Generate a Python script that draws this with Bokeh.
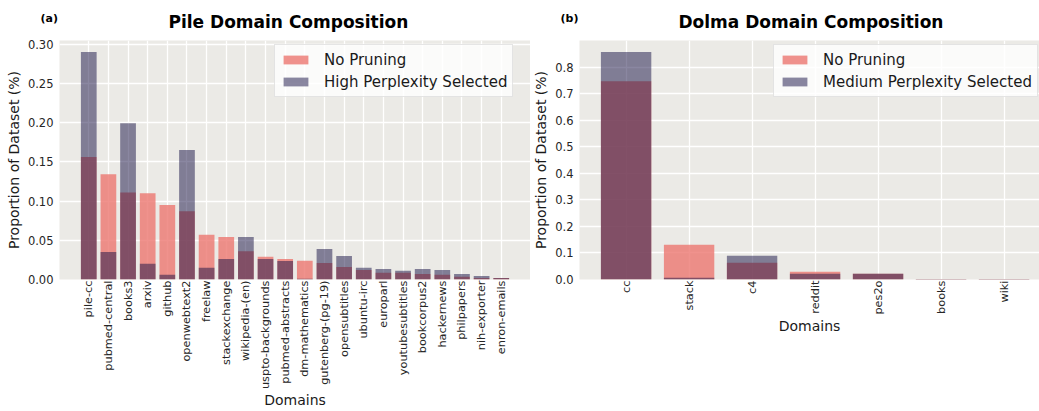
import math
from bokeh.plotting import figure
from bokeh.layouts import row
from bokeh.models import FixedTicker, NumeralTickFormatter, Legend, LegendItem, Title
from bokeh.embed import file_html
from bokeh.resources import INLINE

# ---------------- data ----------------
pile_domains = ["pile-cc", "pubmed-central", "books3", "arxiv", "github", "openwebtext2",
                "freelaw", "stackexchange", "wikipedia-(en)", "uspto-backgrounds",
                "pubmed-abstracts", "dm-mathematics", "gutenberg-(pg-19)", "opensubtitles",
                "ubuntu-irc", "europarl", "youtubesubtitles", "bookcorpus2", "hackernews",
                "philpapers", "nih-exporter", "enron-emails"]
pile_no_pruning = [0.156, 0.134, 0.111, 0.110, 0.095, 0.087, 0.057, 0.054, 0.036, 0.029,
                   0.026, 0.024, 0.021, 0.016, 0.012, 0.0085, 0.0085, 0.007, 0.006, 0.0035,
                   0.002, 0.0018]
pile_high_ppl = [0.290, 0.035, 0.199, 0.020, 0.006, 0.165, 0.015, 0.026, 0.054, 0.026,
                 0.0235, 0.001, 0.039, 0.030, 0.015, 0.0135, 0.011, 0.0135, 0.012, 0.007,
                 0.0046, 0.0018]
pile_yticks = [0.0, 0.05, 0.10, 0.15, 0.20, 0.25, 0.30]

dolma_domains = ["cc", "stack", "c4", "reddit", "pes2o", "books", "wiki"]
dolma_no_pruning = [0.747, 0.131, 0.063, 0.029, 0.022, 0.002, 0.002]
dolma_medium_ppl = [0.857, 0.0064, 0.0896, 0.0215, 0.022, 0.002, 0.002]
dolma_yticks = [0.0, 0.1, 0.2, 0.3, 0.4, 0.5, 0.6, 0.7, 0.8]

FONT = "DejaVu Sans"
BG = "#EBEAE6"
PINK = "#EC7770"
DARK = "#151044"
TXT = "#1a1a1a"


def panel(domains, base, sel, sel_label, yticks, yfmt, x_range, y_range, width,
          border_left, border_right, title, title_offset, tag, leg_xy):
    p = figure(width=width, height=411, x_range=x_range, y_range=y_range,
               output_backend="svg", toolbar_location=None,
               min_border_left=border_left, min_border_right=border_right,
               min_border_top=40, min_border_bottom=132)
    p.background_fill_color = BG
    p.border_fill_color = "white"
    p.outline_line_color = None

    xs = list(range(len(domains)))
    r1 = p.vbar(x=xs, top=base, width=0.8, bottom=0, fill_color=PINK, fill_alpha=0.8,
                line_color=None)
    r2 = p.vbar(x=xs, top=sel, width=0.8, bottom=0, fill_color=DARK, fill_alpha=0.5,
                line_color=None)

    # panel tag, e.g. "(a)" (outermost title row)
    p.title.text = tag
    p.title.align = "left"
    p.title.offset = -19
    p.title.standoff = -49
    p.title.text_font = FONT
    p.title.text_font_size = "11px"
    p.title.text_font_style = "bold"
    p.title.text_color = "black"

    # main title (next to the frame)
    p.add_layout(Title(text=title, align="left", offset=title_offset, standoff=18,
                       text_font=FONT, text_font_size="17px", text_font_style="bold",
                       text_color="black"), "above")

    # axes
    p.xaxis.ticker = FixedTicker(ticks=xs)
    p.xaxis.major_label_overrides = {i: d for i, d in enumerate(domains)}
    p.xaxis.major_label_orientation = math.pi / 2
    p.yaxis.ticker = FixedTicker(ticks=yticks)
    p.yaxis.formatter = NumeralTickFormatter(format=yfmt)
    p.xaxis.axis_label = "Domains"
    p.yaxis.axis_label = "Proportion of Dataset (%)"
    p.xaxis.major_label_standoff = 1
    p.yaxis.major_label_standoff = 6
    p.xaxis.axis_label_standoff = 0
    p.yaxis.axis_label_standoff = 3
    for ax in (p.xaxis, p.yaxis):
        ax.axis_line_color = None
        ax.major_tick_line_color = None
        ax.minor_tick_line_color = None
        ax.major_tick_out = 0
        ax.major_tick_in = 0
        ax.major_label_text_font = FONT
        ax.major_label_text_color = "#262626"
        ax.axis_label_text_font = FONT
        ax.axis_label_text_font_size = "14px"
        ax.axis_label_text_font_style = "normal"
        ax.axis_label_text_color = TXT
    p.xaxis.major_label_text_font_size = "11.3px"
    p.yaxis.major_label_text_font_size = "11.5px"

    p.xgrid.ticker = FixedTicker(ticks=xs)
    p.ygrid.ticker = FixedTicker(ticks=yticks)
    for g in (p.xgrid, p.ygrid):
        g.grid_line_color = "white"
        g.grid_line_width = 1.3

    legend = Legend(items=[LegendItem(label="No Pruning", renderers=[r1]),
                           LegendItem(label=sel_label, renderers=[r2])],
                    location=leg_xy, margin=0, padding=5, spacing=3,
                    glyph_width=31, glyph_height=11, label_height=19,
                    label_standoff=13, label_text_font=FONT, label_text_font_size="15px",
                    label_text_color=TXT, background_fill_color="white",
                    background_fill_alpha=0.8, border_line_color="#CCCCCC",
                    border_line_width=1)
    p.add_layout(legend)
    return p


left = panel(pile_domains, pile_no_pruning, pile_high_ppl, "High Perplexity Selected",
             pile_yticks, "0.00", (-1.49, 22.49), (0, 0.3045), 530, 59, 0,
             "Pile Domain Composition", 109, "(a)", (215, 182))

right = panel(dolma_domains, dolma_no_pruning, dolma_medium_ppl,
              "Medium Perplexity Selected", dolma_yticks, "0.0", (-0.74, 6.563), (0, 0.9),
              509, 44, 0, "Dolma Domain Composition", 99, "(b)", (194, 182))

layout = row(left, right)
open("out.html", "w").write(file_html(layout, INLINE))
